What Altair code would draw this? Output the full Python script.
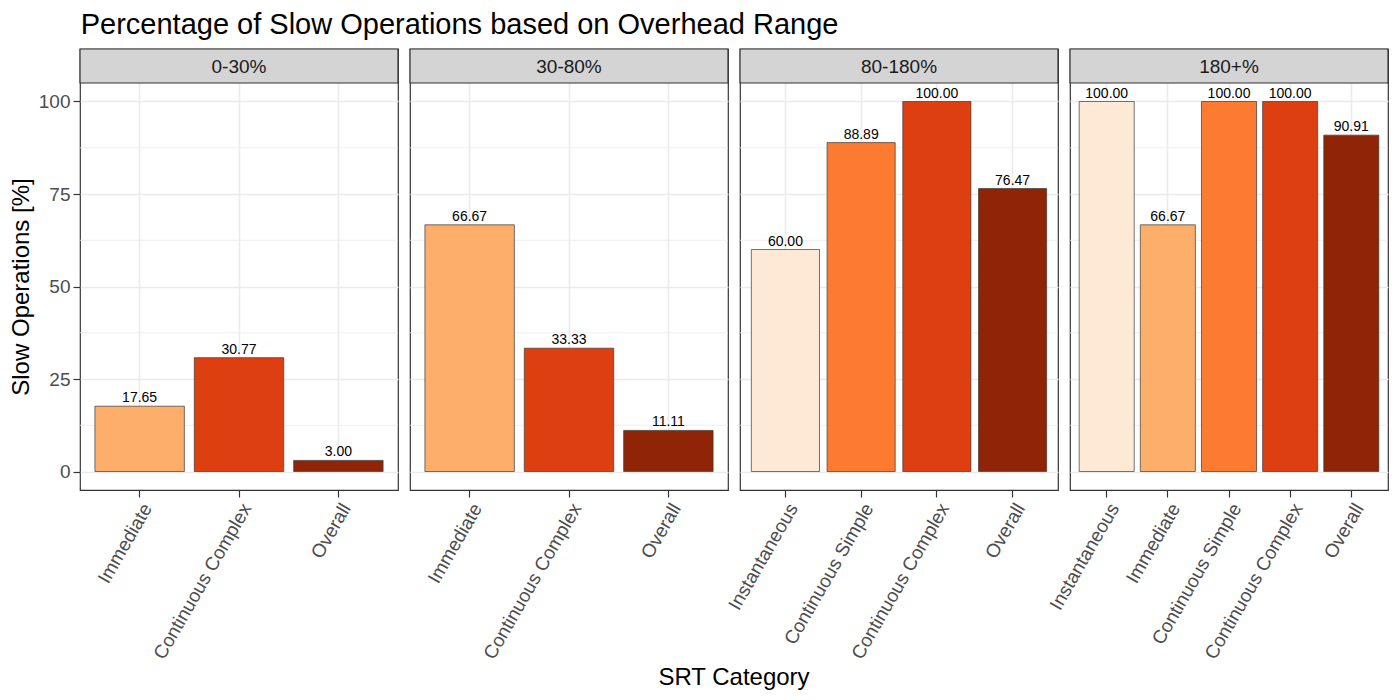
import altair as alt
import pandas as pd

ranges = ["0-30%", "30-80%", "80-180%", "180+%"]
categories = ["Instantaneous", "Immediate", "Continuous Simple", "Continuous Complex", "Overall"]
colors = ["#FEE8D6", "#FDAE6B", "#FD7B31", "#DE3F10", "#902406"]

row_range = ["0-30%", "0-30%", "0-30%",
             "30-80%", "30-80%", "30-80%",
             "80-180%", "80-180%", "80-180%", "80-180%",
             "180+%", "180+%", "180+%", "180+%", "180+%"]
row_category = ["Immediate", "Continuous Complex", "Overall",
                "Immediate", "Continuous Complex", "Overall",
                "Instantaneous", "Continuous Simple", "Continuous Complex", "Overall",
                "Instantaneous", "Immediate", "Continuous Simple", "Continuous Complex", "Overall"]
row_value = [17.65, 30.77, 3.00,
             66.67, 33.33, 11.11,
             60.00, 88.89, 100.00, 76.47,
             100.00, 66.67, 100.00, 100.00, 90.91]

y_major = [0, 25, 50, 75, 100]
y_minor = [12.5, 37.5, 62.5, 87.5]

df = pd.DataFrame({"range": row_range, "category": row_category, "value": row_value})

W = 318
H = 441
HEAD = 34
FONT = "Liberation Sans"
GRID = "#EBEBEB"
DARK = "#333333"

color_scale = alt.Scale(domain=categories, range=colors)

panels = []
for i, r in enumerate(ranges):
    sub = df[df["range"] == r]
    present = set(sub["category"])
    cats = [c for c in categories if c in present]
    xscale = alt.Scale(domain=cats, paddingInner=0.1, paddingOuter=0.15)
    yscale = alt.Scale(domain=[-5, 105], nice=False, zero=False, range=[H, HEAD])
    xaxis = alt.Axis(title=None, labelAngle=-60, labelAlign="right", labelBaseline="top",
                     labelFontSize=19, labelColor="#4D4D4D", labelFont=FONT, labelLimit=400,
                     labelPadding=3, tickColor=DARK, tickSize=7, tickWidth=1.2, domain=False,
                     grid=True, gridColor=GRID, gridWidth=1.6, bandPosition=0.5)
    if i == 0:
        yaxis = alt.Axis(title="Slow Operations [%]", values=y_major, domain=False, grid=True,
                         gridColor=GRID, gridWidth=1.6, labelFontSize=19, labelColor="#4D4D4D",
                         labelFont=FONT, tickColor=DARK, tickSize=7, tickWidth=1.2,
                         labelPadding=3,
                         titleFontSize=24, titleFont=FONT, titleFontWeight="normal",
                         titleColor="black", titleY=(HEAD + H) / 2, titlePadding=5)
    else:
        yaxis = alt.Axis(title=None, values=y_major, domain=False, grid=True, gridColor=GRID,
                         gridWidth=1.6, labels=False, ticks=False)

    minor = alt.Chart(pd.DataFrame({"value": y_minor})).mark_rule(
        color=GRID, strokeWidth=0.8).encode(y=alt.Y("value:Q", scale=yscale, axis=yaxis))
    bars = alt.Chart(sub).mark_bar(stroke="#3A3A3A", strokeWidth=0.7).encode(
        x=alt.X("category:N", sort=cats, scale=xscale, axis=xaxis),
        y=alt.Y("value:Q", scale=yscale, axis=yaxis),
        y2=alt.datum(0),
        color=alt.Color("category:N", scale=color_scale, legend=None),
    )
    labels = alt.Chart(sub).mark_text(baseline="bottom", dy=-1, fontSize=14, font=FONT,
                                      color="black").encode(
        x=alt.X("category:N", sort=cats, scale=xscale, axis=xaxis),
        y=alt.Y("value:Q", scale=yscale, axis=yaxis),
        text=alt.Text("value:Q", format=".2f"),
    )
    hdr = alt.Chart(pd.DataFrame({"range": [r]}))
    header_rect = hdr.mark_rect(fill="#D4D4D4", stroke=DARK, strokeWidth=1.2).encode(
        x=alt.value(0), x2=alt.value(W), y=alt.value(0), y2=alt.value(HEAD))
    header_text = hdr.mark_text(fontSize=19, font=FONT, color="#1A1A1A").encode(
        text="range:N", x=alt.value(W / 2), y=alt.value(HEAD / 2 + 1))
    panel = alt.layer(minor, bars, labels, header_rect, header_text).properties(width=W, height=H)
    panels.append(panel)

row = alt.hconcat(*panels, spacing=12, bounds="flush")

xtitle = alt.Chart(pd.DataFrame({"t": ["SRT Category"]})).mark_text(
    fontSize=24, font=FONT, color="black").encode(
    text="t:N", x=alt.value(654), y=alt.value(14)).properties(
    width=1300, height=24, view=alt.ViewBackground(stroke="transparent"))

chart = alt.vconcat(row, xtitle, spacing=0).properties(
    title=alt.TitleParams("Percentage of Slow Operations based on Overhead Range",
                          anchor="start", fontSize=29, font=FONT, fontWeight="normal",
                          color="black", dx=72, offset=8),
    padding={"left": 0, "top": 2, "right": 0, "bottom": 0},
).configure_view(stroke=DARK, strokeWidth=1.2)

chart.save("out.html", embed_options={"renderer": "svg", "actions": False})
